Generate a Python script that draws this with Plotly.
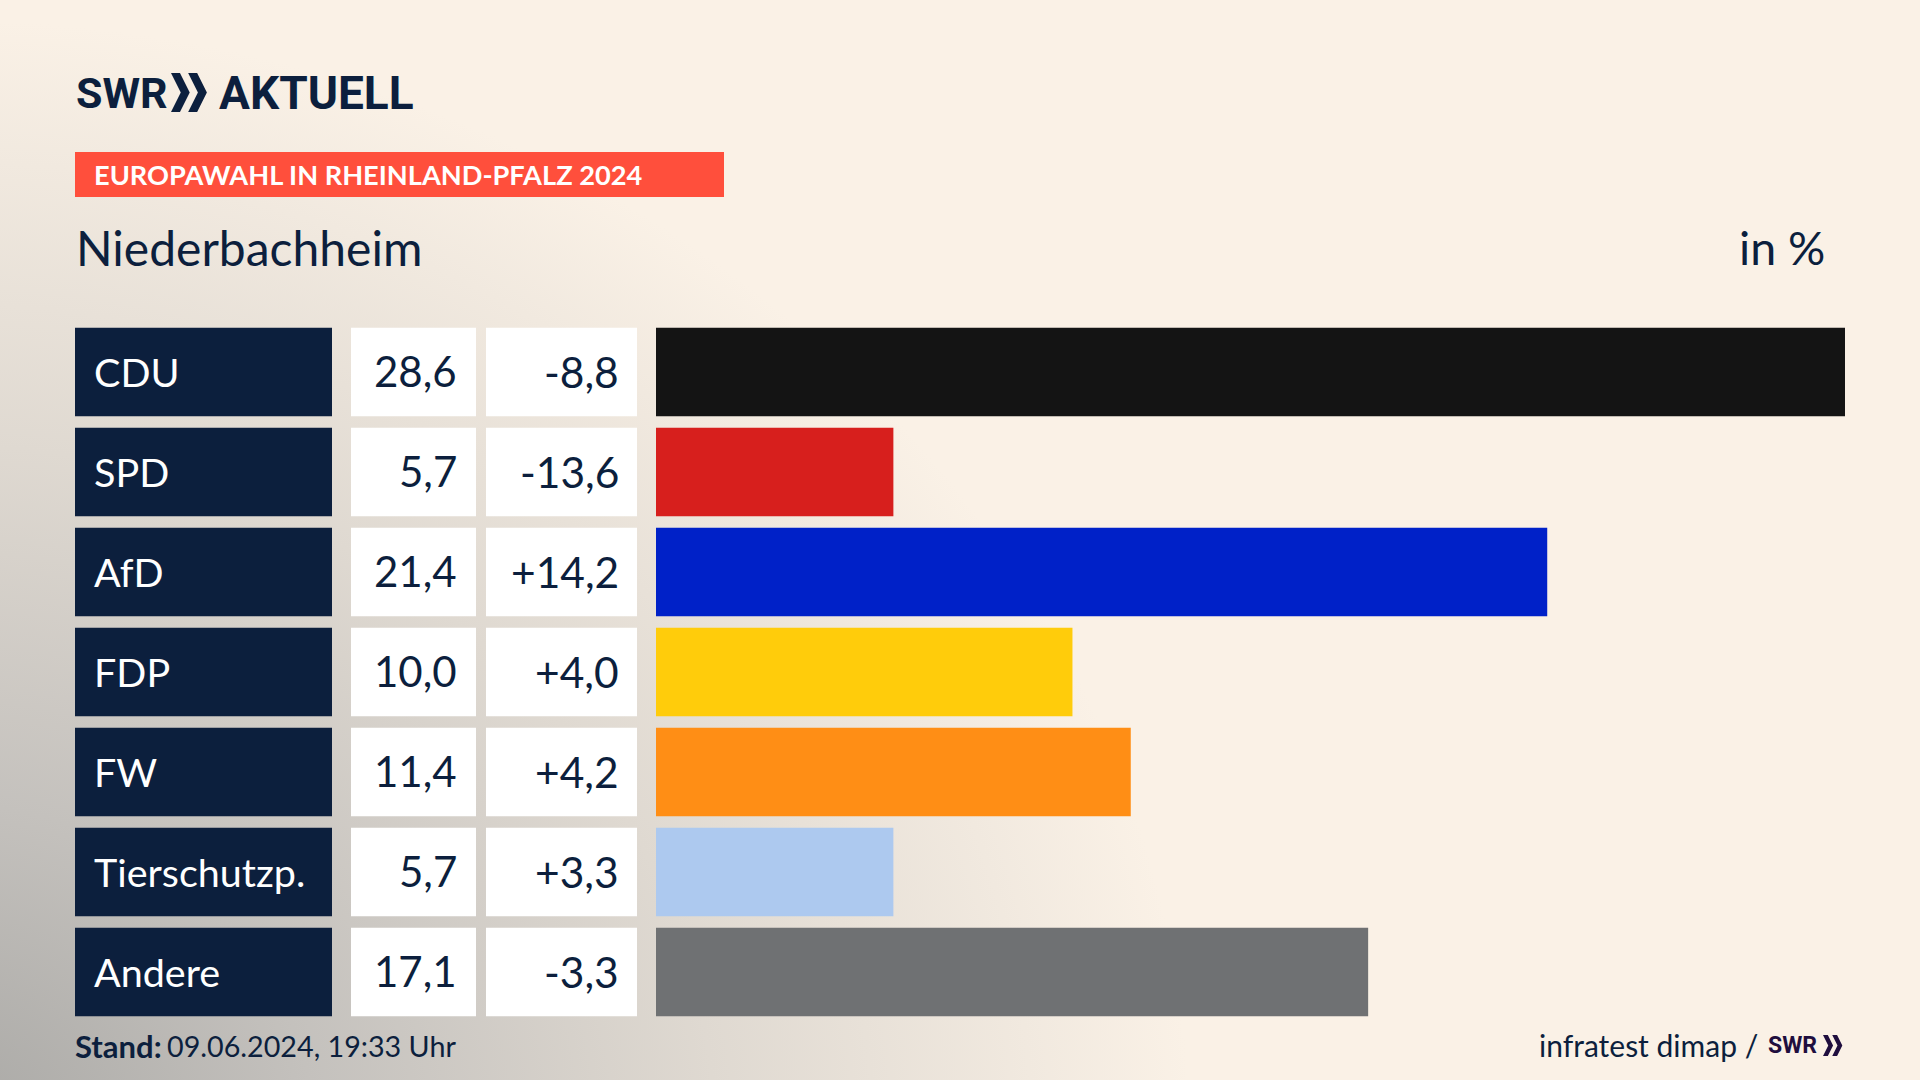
import base64
import plotly.graph_objects as go

# Data
parties = ["CDU", "SPD", "AfD", "FDP", "FW", "Tierschutzp.", "Andere"]
shares = [28.6, 5.7, 21.4, 10.0, 11.4, 5.7, 17.1]
changes = [-8.8, -13.6, 14.2, 4.0, 4.2, 3.3, -3.3]
bar_colors = ["#141414", "#d71f1d", "#0021c8", "#ffcc0b", "#ff8e15", "#adc9ef", "#6f7173"]

W, H = 1920, 1080
NAVY = "#0c1f3d"
FONT = "Lato"
LOGO_FONT = "Roboto"


def de(v, sign=False):
    s = f"{v:+.1f}" if sign else f"{v:.1f}"
    return s.replace(".", ",")


def px(x):
    return x / W


def py(y):
    return 1 - y / H


def label(x, y, text, size, color=NAVY, anchor="left", family=FONT, yref="paper", yshift=0):
    fig.add_annotation(x=px(x), y=py(y) if yref == "paper" else y, xref="paper", yref=yref,
                       text=text, showarrow=False, xanchor=anchor, yanchor="middle", yshift=yshift,
                       font=dict(family=family, size=size, color=color),
                       borderpad=0, borderwidth=0)


def chevrons(x, y, h, color):
    # the two arrows of the SWR logo
    w = h * 0.48
    t = h * 0.23
    for dx in (0, h * 0.44):
        x0 = x + dx
        path = (f"M {px(x0)} {py(y)} L {px(x0 + t)} {py(y)} L {px(x0 + w)} {py(y + h / 2)} "
                f"L {px(x0 + t)} {py(y + h)} L {px(x0)} {py(y + h)} L {px(x0 + w - t)} {py(y + h / 2)} Z")
        fig.add_shape(type="path", path=path, xref="paper", yref="paper",
                      fillcolor=color, line_width=0)


# Background gradient, cream with a grey corner bottom left
svg = f"""<svg xmlns="http://www.w3.org/2000/svg" width="{W}" height="{H}">
<defs><radialGradient id="g" gradientUnits="userSpaceOnUse" cx="0" cy="0" r="1"
 gradientTransform="translate(-60 1140) scale(1250 1120)">
<stop offset="0" stop-color="#a8a7a4"/>
<stop offset="0.3" stop-color="#c4c1bd"/>
<stop offset="0.62" stop-color="#dfd9d1"/>
<stop offset="1" stop-color="#faf1e6"/>
</radialGradient></defs>
<rect width="{W}" height="{H}" fill="#faf1e6"/>
<rect width="{W}" height="{H}" fill="url(#g)"/>
</svg>"""
bg = "data:image/svg+xml;base64," + base64.b64encode(svg.encode()).decode()

fig = go.Figure()

fig.add_trace(go.Bar(
    x=shares, y=parties, orientation="h",
    marker=dict(color=bar_colors, line_width=0),
    hoverinfo="skip",
))

fig.update_layout(
    width=W, height=H,
    margin=dict(l=0, r=0, t=0, b=0),
    paper_bgcolor="#faf1e6",
    plot_bgcolor="rgba(0,0,0,0)",
    showlegend=False,
    bargap=0.115,
    xaxis=dict(domain=[px(656), px(1845)], range=[0, 28.55], visible=False, fixedrange=True),
    yaxis=dict(domain=[py(1022), py(322)], categoryorder="array", categoryarray=parties,
               autorange="reversed", visible=False, fixedrange=True),
    images=[dict(source=bg, xref="paper", yref="paper", x=0, y=1, sizex=1, sizey=1,
                 sizing="stretch", xanchor="left", yanchor="top", layer="below")],
)

# Table cells left of the bars
for i, party in enumerate(parties):
    for x0, x1, color in ((75, 332, NAVY), (351, 476, "white"), (486, 637, "white")):
        fig.add_shape(type="rect", xref="paper", yref="y", x0=px(x0), x1=px(x1),
                      y0=i - 0.4425, y1=i + 0.4425, fillcolor=color, line_width=0)
    label(94, i, party, 39.5, "white", yref="y", yshift=1)
    label(457, i, de(shares[i]), 42, anchor="right", yref="y", yshift=1)
    label(619, i, de(changes[i], sign=True), 42.5, anchor="right", yref="y", yshift=1)

# Header
label(76, 93, "<b>SWR</b>", 43, family=LOGO_FONT)
chevrons(171, 73, 39, NAVY)
label(219, 93, "<b>AKTUELL</b>", 46, family=LOGO_FONT)
fig.add_shape(type="rect", xref="paper", yref="paper", x0=px(75), x1=px(724), y0=py(197), y1=py(152),
              fillcolor="#ff4f3c", line_width=0)
label(94, 175, "<b>EUROPAWAHL IN RHEINLAND-PFALZ 2024</b>", 27.2, "white")
label(76, 247, "Niederbachheim", 48)
label(1825, 247, "in %", 46.5, anchor="right")

# Footer
label(75, 1046, "<b>Stand:</b>", 31)
label(167, 1046, "09.06.2024, 19:33 Uhr", 28.7)
label(1758, 1045, "infratest dimap /", 30, anchor="right")
label(1768, 1045, "<b>SWR</b>", 23, "#1f0e3e", family=LOGO_FONT)
chevrons(1823, 1035, 21, "#1f0e3e")

fig.write_html("out.html", config=dict(displayModeBar=False),
               post_script="document.body.style.margin='0';document.body.style.overflow='hidden';")
